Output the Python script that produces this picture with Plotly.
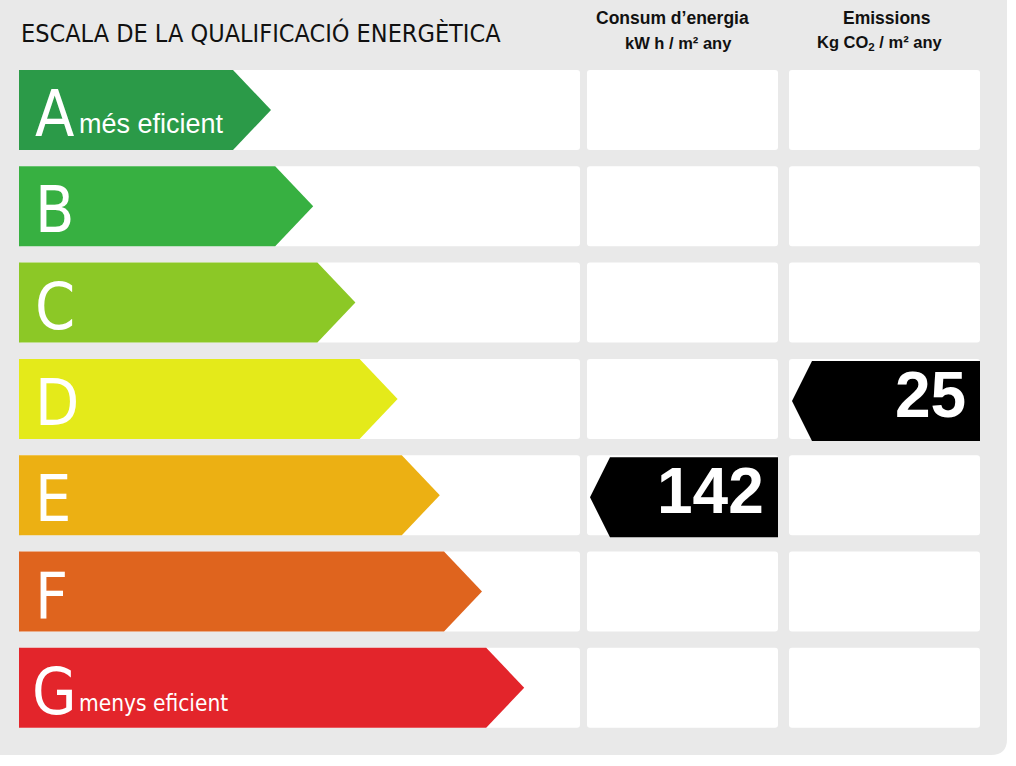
import plotly.graph_objects as go

# ---------------- data ----------------
classes = ["A", "B", "C", "D", "E", "F", "G"]
class_notes = ["més eficient", "", "", "", "", "", "menys eficient"]
class_colors = ["#2b9a48", "#37b041", "#8cc826", "#e4ea1a", "#ecb013", "#df641e", "#e3252b"]

title_text = "ESCALA DE LA QUALIFICACIÓ ENERGÈTICA"
column_titles = ["Consum d’energia", "Emissions"]
column_units = ["kW h / m² any", "Kg CO<sub>2</sub> / m² any"]

consumption_value = 142
consumption_class = "E"
emissions_value = 25
emissions_class = "D"

# ---------------- layout constants (pixels) ----------------
W, H = 1016, 766
ROW_TOP0 = 70.0
ROW_PITCH = 96.3
ROW_H = 80.0
LEFT_X0, LEFT_X1 = 19, 580
COLS = [(587, 778), (789, 980)]
BODY0 = 233.0
BODY_STEP = 42.2
TIP_W = 38.0
NARROW = "Liberation Sans Narrow, Arial Narrow, DejaVu Sans Condensed, sans-serif"
SANS = "Liberation Sans, Arial, sans-serif"

fig = go.Figure()
shapes = []
annotations = []

def rounded_rect(x0, y0, x1, y1, r):
    return (f"M {x0+r},{y0} L {x1-r},{y0} Q {x1},{y0} {x1},{y0+r} "
            f"L {x1},{y1-r} Q {x1},{y1} {x1-r},{y1} L {x0+r},{y1} "
            f"Q {x0},{y1} {x0},{y1-r} L {x0},{y0+r} Q {x0},{y0} {x0+r},{y0} Z")

# background panel
shapes.append(dict(type="path", path=rounded_rect(-20, -20, 1007, 755, 16),
                   fillcolor="#e9e9e9", line=dict(width=0), layer="below"))

for i, cls in enumerate(classes):
    top = ROW_TOP0 + i * ROW_PITCH
    bot = top + ROW_H
    mid = (top + bot) / 2
    # white boxes
    shapes.append(dict(type="path", path=rounded_rect(LEFT_X0, top, LEFT_X1, bot, 3),
                       fillcolor="white", line=dict(width=0), layer="below"))
    for (c0, c1) in COLS:
        shapes.append(dict(type="path", path=rounded_rect(c0, top, c1, bot, 3),
                           fillcolor="white", line=dict(width=0), layer="below"))
    # class arrow
    body = BODY0 + i * BODY_STEP
    tip = body + TIP_W
    fig.add_trace(go.Scatter(
        x=[LEFT_X0, body, tip, body, LEFT_X0, LEFT_X0],
        y=[top, top, mid, bot, bot, top],
        fill="toself", fillcolor=class_colors[i], mode="lines",
        line=dict(width=0, color=class_colors[i]), hoverinfo="skip", showlegend=False))
    annotations.append(dict(x=33 if i < 6 else 30, y=mid + 4, text=cls, showarrow=False,
                            xanchor="left", yanchor="middle",
                            font=dict(family=NARROW, size=64, color="white")))
    if class_notes[i]:
        if i == 0:
            annotations.append(dict(x=77, y=top + 54, text=class_notes[i],
                                    showarrow=False, xanchor="left", yanchor="middle",
                                    font=dict(family=SANS, size=27, color="white")))
        else:
            annotations.append(dict(x=77, y=top + 55, text=class_notes[i],
                                    showarrow=False, xanchor="left", yanchor="middle",
                                    font=dict(family=NARROW, size=22.5, color="white")))

# value indicators
for (val, cls, (c0, c1)) in [(consumption_value, consumption_class, COLS[0]),
                             (emissions_value, emissions_class, COLS[1])]:
    i = classes.index(cls)
    top = ROW_TOP0 + i * ROW_PITCH + 2
    bot = top + ROW_H
    mid = (top + bot) / 2
    tipx = c0 + 3
    bx = tipx + 20
    fig.add_trace(go.Scatter(
        x=[tipx, bx, c1, c1, bx, tipx], y=[mid, top, top, bot, bot, mid],
        fill="toself", fillcolor="black", mode="lines",
        line=dict(width=0, color="black"), hoverinfo="skip", showlegend=False))
    annotations.append(dict(x=c1 - 12, y=mid - 6, text=str(val), showarrow=False,
                            xanchor="right", yanchor="middle",
                            font=dict(family=SANS, size=64, color="white", weight="bold")))

# titles
annotations.append(dict(x=19, y=33, text=title_text, showarrow=False, xanchor="left",
                        yanchor="middle", font=dict(family=NARROW, size=25, color="#111111")))
for t, u, tx, ux in zip(column_titles, column_units, [672, 887], [678, 880]):
    annotations.append(dict(x=tx, y=18, text=t, showarrow=False, xanchor="center",
                            yanchor="middle",
                            font=dict(family=SANS, size=17.5, color="#111111", weight="bold")))
    annotations.append(dict(x=ux, y=43, text=u, showarrow=False, xanchor="center",
                            yanchor="middle",
                            font=dict(family=SANS, size=16.5, color="#111111", weight="bold")))

fig.update_layout(
    width=W, height=H, autosize=False,
    margin=dict(l=0, r=0, t=0, b=0),
    paper_bgcolor="white", plot_bgcolor="white",
    xaxis=dict(range=[0, W], visible=False, fixedrange=True),
    yaxis=dict(range=[H, 0], visible=False, fixedrange=True),
    shapes=shapes, annotations=annotations, showlegend=False,
)
fig.write_html("out.html", config={"displayModeBar": False},
               post_script="document.body.style.margin='0';document.body.style.overflow='hidden';")
